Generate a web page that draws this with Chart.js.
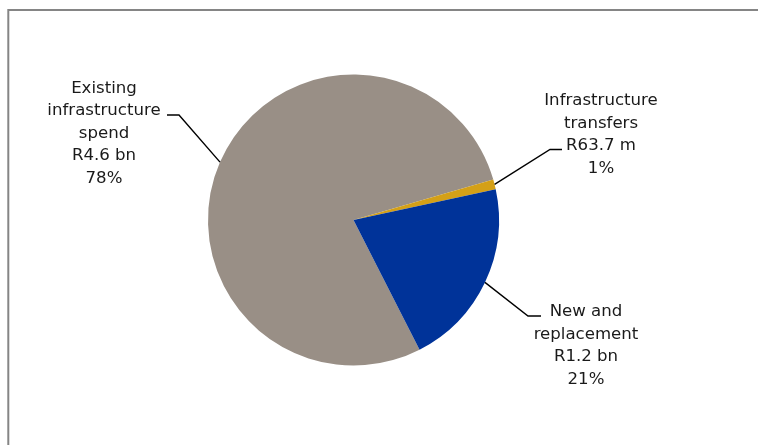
<!DOCTYPE html>
<html>
<head>
<meta charset="utf-8">
<script src="https://cdn.jsdelivr.net/npm/chart.js@4/dist/chart.umd.min.js"></script>
<style>
  html, body { margin: 0; padding: 0; background: #ffffff; }
  #wrap { width: 758px; height: 445px; }
</style>
</head>
<body>
<div id="wrap"><canvas id="pie" width="758" height="445"></canvas></div>
<script>
// Infrastructure spending split (values in R million)
const categories = ['Existing infrastructure spend', 'Infrastructure transfers', 'New and replacement'];
const nameLines = [['Existing', 'infrastructure', 'spend'], ['Infrastructure', 'transfers'], ['New and', 'replacement']];
const spendMillions = [4575, 63.7, 1225];
const sliceColors = ['#998F86', '#D4A017', '#003399'];

// Callout placement: leader elbow, leader end, text centre and first baseline
const callouts = [
  { elbow: [179, 115], end: [167, 115], textX: 104, baseY: 92.5 },
  { elbow: [550, 149.5], end: [562, 149.5], textX: 601, baseY: 105 },
  { elbow: [528, 316], end: [541, 316], textX: 586, baseY: 316 }
];
const linePitch = 22.6;

const total = spendMillions.reduce((a, b) => a + b, 0);
function amountText(v) {
  return v >= 1000 ? 'R' + (v / 1000).toFixed(1) + ' bn' : 'R' + v.toFixed(1) + ' m';
}
function pctText(v) {
  return Math.round(v / total * 100) + '%';
}

const framePlugin = {
  id: 'frame',
  beforeDraw(chart) {
    const ctx = chart.ctx;
    ctx.save();
    ctx.strokeStyle = '#858585';
    ctx.lineWidth = 2;
    ctx.beginPath();
    ctx.moveTo(8.3, 445);
    ctx.lineTo(8.3, 10);
    ctx.lineTo(758, 10);
    ctx.stroke();
    ctx.restore();
  }
};

const calloutPlugin = {
  id: 'callouts',
  afterDatasetsDraw(chart) {
    const ctx = chart.ctx;
    const arcs = chart.getDatasetMeta(0).data;
    ctx.save();
    arcs.forEach((arc, i) => {
      const c = callouts[i];
      const p = arc.getProps(['x', 'y', 'startAngle', 'endAngle', 'outerRadius'], true);
      const mid = (p.startAngle + p.endAngle) / 2;
      const ax = p.x + Math.cos(mid) * p.outerRadius;
      const ay = p.y + Math.sin(mid) * p.outerRadius;
      ctx.strokeStyle = '#000000';
      ctx.lineWidth = 1.4;
      ctx.beginPath();
      ctx.moveTo(ax, ay);
      ctx.lineTo(c.elbow[0], c.elbow[1]);
      ctx.lineTo(c.end[0], c.end[1]);
      ctx.stroke();

      const lines = nameLines[i].concat([amountText(spendMillions[i]), pctText(spendMillions[i])]);
      ctx.fillStyle = '#1a1a1a';
      ctx.font = '16.6px "DejaVu Sans"';
      ctx.textAlign = 'center';
      ctx.textBaseline = 'alphabetic';
      lines.forEach((t, k) => ctx.fillText(t, c.textX, c.baseY + k * linePitch));
    });
    ctx.restore();
  }
};

new Chart(document.getElementById('pie'), {
  type: 'pie',
  data: {
    labels: categories,
    datasets: [{
      data: spendMillions,
      backgroundColor: sliceColors,
      borderWidth: 0
    }]
  },
  options: {
    responsive: false,
    animation: false,
    rotation: 153,
    layout: { padding: { left: 208, right: 259, top: 74, bottom: 79 } },
    plugins: {
      legend: { display: false },
      tooltip: { enabled: false }
    }
  },
  plugins: [framePlugin, calloutPlugin]
});
</script>
</body>
</html>
